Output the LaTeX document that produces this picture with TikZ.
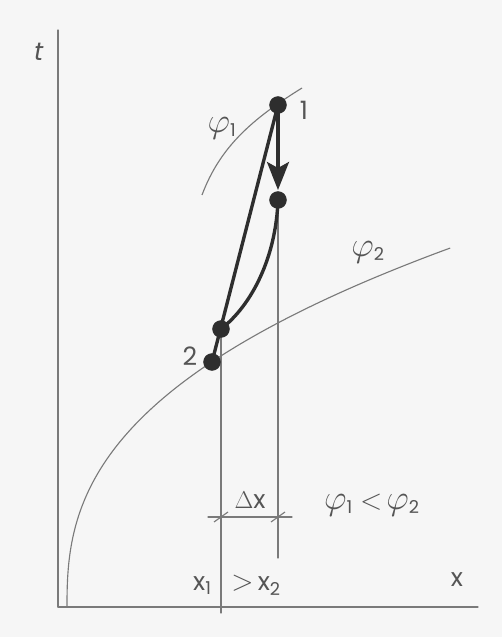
\documentclass[tikz,border=0pt]{standalone}
\usepackage{fontspec}
\setmainfont{Poppins}
\usepackage{tikz}
\usetikzlibrary{calc, arrows.meta}
\usepackage{tkz-euclide}

\definecolor{thinline}{HTML}{7A7A7A}
\definecolor{thickline}{HTML}{2E2E2E}
\definecolor{labeltext}{HTML}{555555}
\newcommand{\phisym}{{\fontsize{25}{26}\selectfont$\varphi$}}
\newcommand{\relsym}[1]{\;{\fontsize{22}{24}\selectfont$#1$}\,}

\begin{document}
\begin{tikzpicture}[x=0.5cm,y=0.5cm,
    thinpath/.style={thinline, line width=0.8pt},
    thickpath/.style={thickline, line width=2.4pt},
    lbl/.style={labeltext, font=\fontsize{18}{20}\selectfont, inner sep=0pt}]
                \fill[gray!7] (0,0) rectangle (25.1,31.85);
                \useasboundingbox (0,0) rectangle (25.1,31.85);
                % axes
                \tkzDefPoint(2.9,1.5){O}
                \tkzDefPoint(2.9,30.35){T}
                \tkzDefPoint(23.9,1.5){X}
                % states 1 and 2
                \tkzDefPoint(13.9,26.6){P}
                \tkzDefPoint(13.9,21.85){M}
                \tkzDefPoint(13.9,22.35){H}
                \tkzDefPoint(11.05,15.4){N}
                \tkzDefPoint(10.6,13.75){Q}
                % drop lines and the Delta x measure
                \tkzDefPoint(11.05,1.2){A}
                \tkzDefPoint(13.9,3.95){B}
                \tkzDefPoint(10.4,6){D}
                \tkzDefPoint(14.6,6){E}
                \tkzDrawSegments[thinpath](O,T O,X N,A M,B D,E)
                \foreach \xt in {11.05,13.9}
                  \draw[thinpath] (\xt-0.35,5.75) -- (\xt+0.35,6.25);
                % phi_1 and phi_2
                \draw[thinpath] (10.1,22.1) .. controls (11,24.5) and (12.6,25.9) .. (15.1,27.45);
                \draw[thinpath] plot[domain=0.01:17.95, samples=150, smooth]
                  ({3.35+pow(\x/5.64,2.551)},{1.5+\x});
                % paths from 1 to 2
                \tkzDrawSegments[thickpath](P,Q)
                \draw[thickpath] (M) .. controls (13.8,19.0) and (12.6,16.6) .. (N);
                \draw[thickpath, -{Stealth[length=7mm,width=5.5mm,inset=1.5mm]}] (P) -- (H);
                \tkzDrawPoints[size=12, fill=thickline, color=thickline](P,M,N,Q)
                % labels
                \node[lbl] (tlab) at (1.95,29.25) {\textit{t}};
                \node[lbl] (xlab) at (22.85,2.85) {x};
                \node[lbl] (phione) at (11.1,25.45) {\phisym\textsubscript{1}};
                \node[lbl] (one) at (15.2,26.35) {1};
                \node[lbl] (two) at (9.5,14.05) {2};
                \node[lbl] (phitwo) at (18.4,19.25) {\phisym\textsubscript{2}};
                \node[lbl] (dx) at (12.5,6.85) {$\Delta$x};
                \node[lbl] (phirel) at (18.6,6.6) {\phisym\textsubscript{1}\relsym{<}\phisym\textsubscript{2}};
                \node[lbl] (xrel) at (11.85,2.6) {x\textsubscript{1}\hspace{0.5em}\relsym{>}x\textsubscript{2}};
\end{tikzpicture}
\end{document}
